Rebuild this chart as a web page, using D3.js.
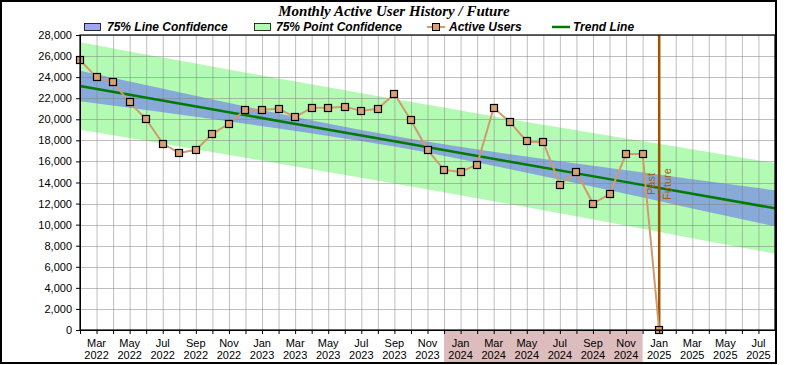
<!DOCTYPE html>
<html><head><meta charset="utf-8">
<script src="https://cdn.jsdelivr.net/npm/d3@7"></script>
<style>body{margin:0;background:#fff}svg{display:block}</style>
</head><body>
<svg id="c" width="790" height="365"></svg>
<script>
// ---- data ----
const months = ["Feb 2022","Mar 2022","Apr 2022","May 2022","Jun 2022","Jul 2022","Aug 2022","Sep 2022","Oct 2022","Nov 2022","Dec 2022",
"Jan 2023","Feb 2023","Mar 2023","Apr 2023","May 2023","Jun 2023","Jul 2023","Aug 2023","Sep 2023","Oct 2023","Nov 2023","Dec 2023",
"Jan 2024","Feb 2024","Mar 2024","Apr 2024","May 2024","Jun 2024","Jul 2024","Aug 2024","Sep 2024","Oct 2024","Nov 2024","Dec 2024",
"Jan 2025"];
const activeUsers = [25600,24000,23500,21600,20000,17700,16800,17100,18600,19600,20900,
20900,21000,20200,21100,21100,21200,20800,21000,22400,19900,17100,15200,
15000,15700,21100,19700,17900,17800,13800,15000,12000,12900,16700,16700,
0];
// trend + confidence bands sampled at month indexes (0 = Feb 2022)
const bandMonths = [0,6,12,19,26,32,37,42];
const trendValues = [23160,21500,19840,17910,15970,14320,12930,11550];
const lineConfHalf = [1450,1056,708,500,708,1056,1390,1710];
const pointConfHalf = [4160,4080,4030,4010,4040,4120,4220,4300];
const axisMonthCount = 42; // Feb 2022 .. Aug 2025
const xTickMonthLabels = ["Mar","May","Jul","Sep","Nov","Jan","Mar","May","Jul","Sep","Nov","Jan","Mar","May","Jul","Sep","Nov","Jan","Mar","May","Jul"];
const xTickYearLabels = ["2022","2022","2022","2022","2022","2023","2023","2023","2023","2023","2023","2024","2024","2024","2024","2024","2024","2025","2025","2025","2025"];
const yTicks = [0,2000,4000,6000,8000,10000,12000,14000,16000,18000,20000,22000,24000,26000,28000];
const highlightRange = [22,34];
const dividerMonth = 35;
const legendLabels = ["75% Line Confidence","75% Point Confidence","Active Users","Trend Line"];
const titleText = "Monthly Active User History / Future";

// ---- layout ----
const L=80, R=775, T=35, B=330;
const svg = d3.select("#c");
const x = d3.scaleLinear().domain([0,axisMonthCount]).range([L,R]);
const y = d3.scaleLinear().domain([0,28000]).range([B,T]);
const sans = "'Liberation Sans', Arial, sans-serif";

// highlight under axis
svg.append("rect").attr("x",x(highlightRange[0])).attr("y",B+1)
  .attr("width",x(highlightRange[1])-x(highlightRange[0])).attr("height",362-B-1)
  .attr("fill","#dcbcbc");

// bands
const band = bandMonths.map((m,i)=>({m, t:trendValues[i], l:lineConfHalf[i], p:pointConfHalf[i]}));
svg.append("path").datum(band)
  .attr("d", d3.area().curve(d3.curveMonotoneX).x(d=>x(d.m)).y0(d=>y(d.t-d.p)).y1(d=>y(d.t+d.p)))
  .attr("fill","#b3fbb3");
svg.append("path").datum(band)
  .attr("d", d3.area().curve(d3.curveMonotoneX).x(d=>x(d.m)).y0(d=>y(d.t-d.l)).y1(d=>y(d.t+d.l)))
  .attr("fill","#88aad8");

// grid
const g = svg.append("g");
g.selectAll("line.v").data(d3.range(0,axisMonthCount+1)).join("line")
  .attr("x1",d=>x(d)+0.5).attr("x2",d=>x(d)+0.5).attr("y1",T).attr("y2",B)
  .attr("stroke","#808080").attr("stroke-opacity",0.5).attr("stroke-width",1);
g.selectAll("line.h").data(yTicks).join("line")
  .attr("x1",L).attr("x2",R).attr("y1",d=>Math.round(y(d))+0.5).attr("y2",d=>Math.round(y(d))+0.5)
  .attr("stroke","#808080").attr("stroke-opacity",0.5).attr("stroke-width",1);

// trend line
svg.append("path").datum(band)
  .attr("d", d3.line().x(d=>x(d.m)).y(d=>y(d.t)))
  .attr("fill","none").attr("stroke","#007a00").attr("stroke-width",2.5);

// divider
svg.append("line").attr("x1",x(dividerMonth)).attr("x2",x(dividerMonth)).attr("y1",T).attr("y2",B)
  .attr("stroke","#a05400").attr("stroke-width",2.5);
svg.append("text").attr("transform",`translate(${x(dividerMonth)-4},184) rotate(-90)`)
  .attr("text-anchor","middle").attr("font-family",sans).attr("font-size",11).attr("fill","#a0600c").text("Past");
svg.append("text").attr("transform",`translate(${x(dividerMonth)+12},184) rotate(-90)`)
  .attr("text-anchor","middle").attr("font-family",sans).attr("font-size",11).attr("fill","#a0600c").text("Future");

// active users
const pts = activeUsers.map((v,i)=>({m:i,v}));
svg.append("path").datum(pts)
  .attr("d", d3.line().x(d=>x(d.m)).y(d=>y(d.v)))
  .attr("fill","none").attr("stroke","#d29a6c").attr("stroke-width",2);
svg.selectAll("rect.pt").data(pts).join("rect")
  .attr("x",d=>Math.round(x(d.m))-3.5).attr("y",d=>Math.round(y(d.v))-3.5).attr("width",7).attr("height",7)
  .attr("fill","#d9a070").attr("stroke","#000").attr("stroke-width",1.2);

// plot frame
svg.append("rect").attr("x",L).attr("y",T).attr("width",R-L).attr("height",B-T)
  .attr("fill","none").attr("stroke","#000").attr("stroke-width",1.2);

// y axis
const ya = svg.append("g").attr("transform",`translate(${L},0)`)
  .call(d3.axisLeft(y).tickValues(yTicks).tickFormat(d3.format(",")).tickSize(4).tickSizeOuter(0));
ya.select(".domain").attr("stroke","#000");
ya.selectAll("text").attr("font-family",sans).attr("font-size",11).attr("fill","#000").attr("dx",-1);

// x axis
const xa = svg.append("g").attr("transform",`translate(0,${B})`)
  .call(d3.axisBottom(x).tickValues(d3.range(0,axisMonthCount+1)).tickFormat("").tickSize(4).tickSizeOuter(0));
xa.select(".domain").attr("stroke","#000");
const labelIdx = d3.range(1,axisMonthCount,2);
const xl = svg.append("g").attr("font-family",sans).attr("font-size",11).attr("fill","#000").attr("text-anchor","middle");
xl.selectAll("text.m").data(labelIdx).join("text").attr("x",d=>x(d)).attr("y",347).text((d,i)=>xTickMonthLabels[i]);
xl.selectAll("text.yr").data(labelIdx).join("text").attr("x",d=>x(d)).attr("y",359).text((d,i)=>xTickYearLabels[i]);

// title
svg.append("text").attr("x",394).attr("y",16).attr("text-anchor","middle")
  .attr("font-family","'Liberation Serif','Times New Roman',serif").attr("font-size",15)
  .attr("font-weight","bold").attr("font-style","italic").text(titleText);

// legend
const lg = svg.append("g").attr("font-family",sans).attr("font-size",12).attr("font-weight","bold").attr("font-style","italic");
lg.append("rect").attr("x",84.5).attr("y",23.5).attr("width",16).attr("height",7).attr("fill","#a0a8ec").attr("stroke","#000").attr("stroke-width",0.8);
lg.append("text").attr("x",107).attr("y",31).text(legendLabels[0]);
lg.append("rect").attr("x",254.5).attr("y",23.5).attr("width",16).attr("height",7).attr("fill","#b3fbb3").attr("stroke","#000").attr("stroke-width",0.8);
lg.append("text").attr("x",276).attr("y",31).text(legendLabels[1]);
lg.append("line").attr("x1",427).attr("x2",445).attr("y1",27).attr("y2",27).attr("stroke","#d29a6c").attr("stroke-width",2);
lg.append("rect").attr("x",432.5).attr("y",23.5).attr("width",7).attr("height",7).attr("fill","#d9a070").attr("stroke","#000").attr("stroke-width",1);
lg.append("text").attr("x",449).attr("y",31).text(legendLabels[2]);
lg.append("line").attr("x1",552).attr("x2",570).attr("y1",27).attr("y2",27).attr("stroke","#007a00").attr("stroke-width",2.5);
lg.append("text").attr("x",573).attr("y",31).text(legendLabels[3]);

// outer frame
svg.append("rect").attr("x",1).attr("y",1).attr("width",775).attr("height",362)
  .attr("fill","none").attr("stroke","#000").attr("stroke-width",2);
</script>
</body></html>
